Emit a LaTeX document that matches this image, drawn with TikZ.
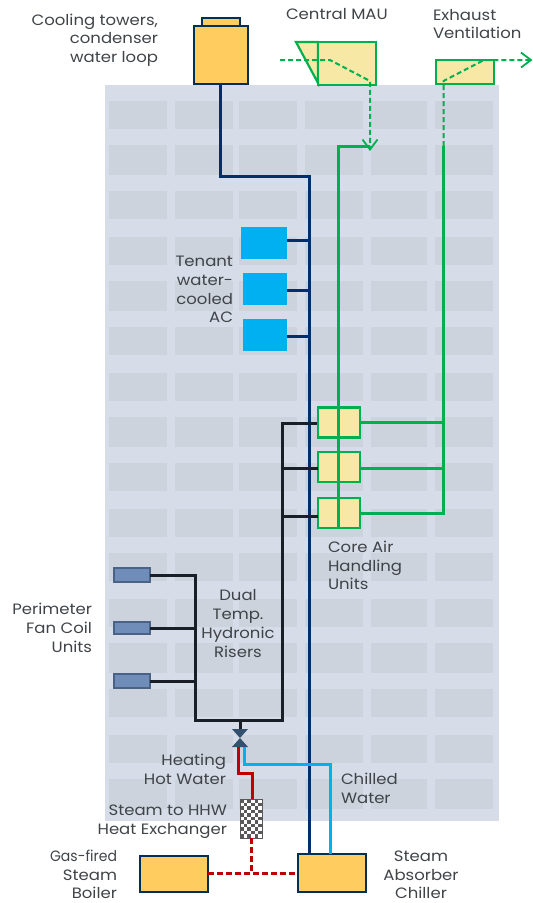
\documentclass[tikz,border=0pt]{standalone}
\usepackage{fontspec}
\setmainfont[FakeStretch=1.1]{Poppins}
\usetikzlibrary{arrows.meta}
\definecolor{bldg}{HTML}{D6DCE8}
\definecolor{win}{HTML}{CCD3DC}
\definecolor{navy}{HTML}{002F6C}
\definecolor{edge}{HTML}{003057}
\definecolor{gold}{HTML}{FFCC5F}
\definecolor{grn}{HTML}{00B050}
\definecolor{pale}{HTML}{F7E9A5}
\definecolor{cyanb}{HTML}{00B0F0}
\definecolor{blk}{HTML}{1A1F27}
\definecolor{red2}{HTML}{C00000}
\definecolor{fcu}{HTML}{6F8DB8}
\definecolor{fcue}{HTML}{4A6285}
\definecolor{valve}{HTML}{34506F}
\definecolor{txt}{HTML}{404448}
\tikzset{
  every node/.style={inner sep=0pt,outer sep=0pt},
  lbl/.style={text=txt,font=\fontsize{15}{18.7}\selectfont,align=#1},
  lbl/.default=right,
  gbox/.style={draw=edge,line width=2pt,fill=gold},
  ybox/.style={draw=grn,line width=2.2pt,fill=pale},
  tenant/.style={fill=cyanb},
  fanbox/.style={draw=fcue,line width=1.6pt,fill=fcu},
  navyl/.style={draw=navy,line width=2.8pt},
  blkl/.style={draw=blk,line width=2.8pt},
  grnl/.style={draw=grn,line width=2.6pt},
  grnd/.style={draw=grn,line width=2pt,dash pattern=on 5pt off 3pt},
  gtip/.style={-{Straight Barb[length=10pt,width=15pt,line width=1.8pt]}},
  redl/.style={draw=red2,line width=3pt},
  redd/.style={draw=red2,line width=2.8pt,dash pattern=on 6pt off 3pt},
  cyl/.style={draw=cyanb,line width=2.8pt},
}
\begin{document}
\begin{tikzpicture}[x=1pt,y=-1pt]
\useasboundingbox (0,0) rectangle (533,903);
% building
\fill[bldg] (105,85) rectangle (499,821);
\foreach \a/\b in {101/129,145/175,191/219,237/265,281/311,327/355,373/401,417/447,463/491,509/537,553/581,599/627,643/673,689/717,735/763,779/809}{
  \foreach \c/\d in {109/167,175/233,239/297,305/363,371/427,435/493}{
    \fill[win] (\c,\a) rectangle (\d,\b);
  }
}
% equipment
\node[gbox,minimum width=38pt,minimum height=8pt] (towertop) at (221,22) {};
\node[gbox,minimum width=54pt,minimum height=58pt] (tower) at (221,55) {};
\filldraw[ybox] (296,42) -- (318,42) -- (318,83) -- cycle;
\node[ybox,minimum width=58pt,minimum height=43pt] (mau) at (347,63.5) {};
\node[ybox,minimum width=58pt,minimum height=24pt] (exh) at (465,72) {};
\node[tenant,minimum width=46pt,minimum height=32pt] (ac1) at (264,243) {};
\node[tenant,minimum width=44pt,minimum height=32pt] (ac2) at (265,289) {};
\node[tenant,minimum width=44pt,minimum height=32pt] (ac3) at (265,335) {};
\node[fanbox,minimum width=36pt,minimum height=14pt] (fc1) at (132,575) {};
\node[fanbox,minimum width=36pt,minimum height=12pt] (fc2) at (132,628) {};
\node[fanbox,minimum width=36pt,minimum height=14pt] (fc3) at (132,681) {};
\node[gbox,minimum width=68pt,minimum height=36pt] (boiler) at (174,874) {};
\node[gbox,minimum width=68pt,minimum height=38pt] (chiller) at (332,873) {};
\node[minimum width=16pt,minimum height=18pt] (valv) at (240,738) {};
\node[minimum width=22pt,minimum height=39pt] (hx) at (251,818.5) {};
% junction coordinates
\coordinate (navyA) at (220.5,176.5);
\coordinate (navyB) at (309.5,176.5);
\coordinate (n1) at (309.5,240.5);
\coordinate (n2) at (309.5,290.5);
\coordinate (n3) at (309.5,336.5);
\coordinate (chwA) at (338.5,146.5);
\coordinate (chwB) at (370,146.5);
\coordinate (mauOut) at (370,151);
\coordinate (mauIn) at (280,60);
\coordinate (mauK) at (330,60);
\coordinate (mauD) at (370,81);
\coordinate (exU) at (443.5,146);
\coordinate (exL) at (443.5,81);
\coordinate (exK) at (484,60);
\coordinate (exOut) at (532.5,60);
\coordinate (exB) at (443.5,513.5);
\coordinate (grnB) at (338.5,527);
\coordinate (riserL) at (195.5,575.5);
\coordinate (rl2) at (195.5,628.5);
\coordinate (rl3) at (195.5,681.5);
\coordinate (riserLb) at (195.5,720.5);
\coordinate (riserRt) at (282.5,423.5);
\coordinate (rr2) at (282.5,468.5);
\coordinate (rr3) at (282.5,516.5);
\coordinate (riserRb) at (282.5,720.5);
\coordinate (riserM) at (240.5,720.5);
\coordinate (j1) at (443.5,422.5);
\coordinate (j2) at (443.5,468.5);
\coordinate (redA) at (238.5,773.5);
\coordinate (redB) at (252.5,773.5);
\coordinate (cyA) at (244.5,764.5);
\coordinate (cyB) at (330.5,764.5);
\coordinate (st) at (251.5,873.5);
% navy riser
\draw[navyl] (tower.south -| navyA) -- (navyA) -- (navyB) -- (navyB |- chiller.north);
\draw[navyl] (n1 -| ac1.east) -- (n1);
\draw[navyl] (n2 -| ac2.east) -- (n2);
\draw[navyl] (n3 -| ac3.east) -- (n3);
% hydronic risers
\node[ybox,minimum width=42pt,minimum height=30pt] (ahu1) at (339,422.5) {};
\draw[blkl,line join=miter] (riserL -| fc1.east) -- (riserL) -- (riserLb) -- (riserRb) -- (riserRt) -- (riserRt -| ahu1.west);
\draw[blkl] (rl2 -| fc2.east) -- (rl2);
\draw[blkl] (rl3 -| fc3.east) -- (rl3);
% AHUs
\node[ybox,minimum width=42pt,minimum height=30pt] (ahu1b) at (339,422.5) {};
\node[ybox,minimum width=42pt,minimum height=30pt] (ahu2) at (339,467) {};
\node[ybox,minimum width=42pt,minimum height=30pt] (ahu3) at (339,513) {};
\draw[blkl] (rr2) -- (rr2 -| ahu2.west);
\draw[blkl] (rr3) -- (rr3 -| ahu3.west);
\draw[blkl] (riserM) -- (riserM |- valv.north);
% air lines
\draw[grnl] (chwB) -- (chwA) -- (grnB);
\draw[grnl] (exU) -- (exB) -- (exB -| ahu3.east);
\draw[grnl] (j1 -| ahu1.east) -- (j1);
\draw[grnl] (j2 -| ahu2.east) -- (j2);
\draw[grnd,gtip] (mauIn) -- (mauK) -- (mauD) -- (mauOut);
\draw[grnd,gtip] (exU) -- (exL) -- (exK) -- (exOut);
% valve
\fill[valve] (232,729) -- (248,729) -- (232,747) -- (248,747) -- cycle;
% water lines
\draw[redl] (valv.south -| redA) -- (redA) -- (redB) -- (hx.north -| redB);
\draw[cyl] (valv.south -| cyA) -- (cyA) -- (cyB) -- (cyB |- chiller.north);
\fill[white] (240,799) rectangle (262,838);
\foreach \i in {0,...,5}{\foreach \j in {0,...,10}{
  \pgfmathparse{int(mod(\i+\j,2))}
  \ifnum\pgfmathresult=0 \fill[black!65] ({240+\i*22/6},{799+\j*39/11}) rectangle ++(22/6,39/11);\fi
}}
\draw[black!65,line width=1pt] (240,799) rectangle (262,838);
\draw[redd] (hx.south -| st) -- (st);
\draw[redd] (st -| boiler.east) -- (st -| chiller.west);
% labels
\node[lbl=right,anchor=east] (t1) at (158,40) {Cooling towers,\\condenser\\water loop};
\node[lbl=left,anchor=west] (t2) at (286,14) {Central MAU};
\node[lbl=left,anchor=west] (t3) at (433,24) {Exhaust\\Ventilation};
\node[lbl=right,anchor=east] (t4) at (233,289.5) {Tenant\\water-\\cooled\\AC};
\node[lbl=left,anchor=west] (t5) at (328,565.5) {Core Air\\Handling\\Units};
\node[lbl=center] (t6) at (238,623.5) {Dual\\Temp.\\Hydronic\\Risers};
\node[lbl=right,anchor=east] (t7) at (92,628) {Perimeter\\Fan Coil\\Units};
\node[lbl=right,anchor=east] (t8) at (226,769) {Heating\\Hot Water};
\node[lbl=right,anchor=east] (t9) at (227,821.5) {Steam to HHW\\Heat Exchanger};
\node[lbl=left,anchor=west] (t10) at (341,788) {Chilled\\Water};
\node[lbl=right,anchor=east] (t11) at (117,874.5) {\scalebox{0.85}[1]{Gas-fired}\\Steam\\Boiler};
\node[lbl=center] (t12) at (421,875) {Steam\\Absorber\\Chiller};
\end{tikzpicture}
\end{document}
